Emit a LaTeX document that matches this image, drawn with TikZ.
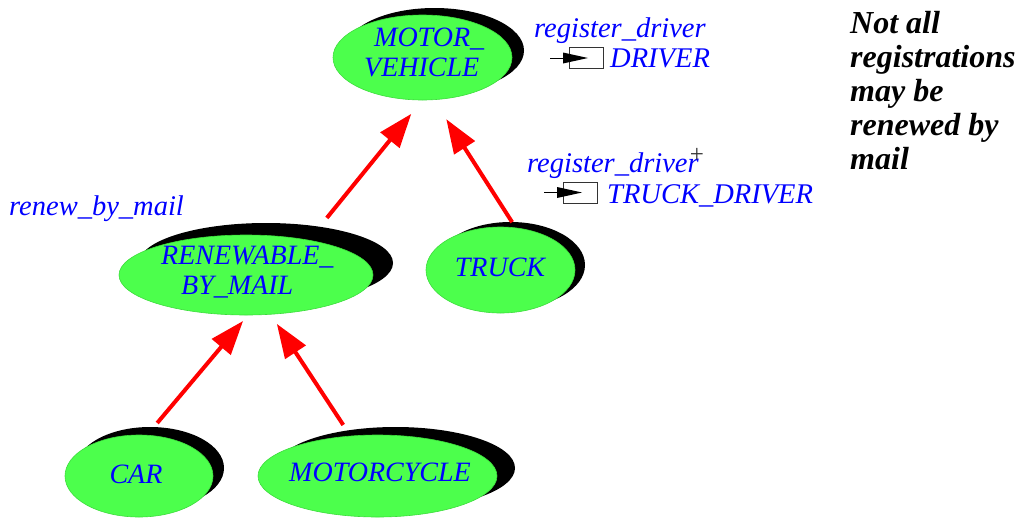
\documentclass[tikz,border=0pt]{standalone}
\usepackage{fontspec}
\setmainfont{Liberation Serif}
\usetikzlibrary{shapes.geometric,arrows.meta,shadows}
\definecolor{clsgreen}{RGB}{76,255,76}
\definecolor{clsedge}{RGB}{60,220,60}
\definecolor{featblue}{RGB}{0,0,255}
\definecolor{inhred}{RGB}{255,0,0}
\begin{document}
\begin{tikzpicture}[x=1pt,y=-1pt,
  cls/.style={ellipse, fill=clsgreen, draw=clsedge, line width=0.6pt, inner sep=0pt, outer sep=0pt},
  clsshadow/.style 2 args={drop shadow={shadow xshift=#1pt, shadow yshift=#2pt, opacity=1, fill=black}},
  clstext/.style={font=\fontsize{28}{30}\selectfont\itshape, text=featblue, inner sep=0pt, align=left},
  feat/.style={font=\fontsize{28.5}{30}\selectfont\itshape, text=featblue, inner sep=0pt},
  inherit/.style={draw=inhred, line width=4pt, -{Triangle[length=34pt,width=24pt]}},
  pics/redef/.style={code={
    \draw[line width=0.8pt, draw=black!80] (6.5,-10.5) rectangle (40,10.5);
    \fill[black] (0,-5.5) -- (25,0) -- (0,5.5) -- cycle;
    \draw[line width=1pt, black] (-13,0) -- (0,0);
  }},
]
\useasboundingbox (0,0) rectangle (1033,517);

% classes
\node[cls, minimum width=179pt, minimum height=85pt, clsshadow={12}{7}] (mv) at (422.5,57.5) {};
\node[cls, minimum width=254pt, minimum height=80pt, clsshadow={20}{12}] (ren) at (246,275) {};
\node[cls, minimum width=149pt, minimum height=86pt, clsshadow={10}{5}] (truck) at (500.5,270) {};
\node[cls, minimum width=148pt, minimum height=82pt, clsshadow={11}{8}] (car) at (139,476) {};
\node[cls, minimum width=239pt, minimum height=82pt, clsshadow={18}{8}] (mc) at (377.5,476) {};

% class names
\node[clstext, anchor=west] (mvt) at (364,52) {\hspace*{10pt}MOTOR\_\\VEHICLE};
\node[clstext, anchor=west] (rent) at (161,272.5) {RENEWABLE\_\\\hspace*{20pt}BY\_MAIL};
\node[clstext, anchor=base] (truckt) at (500,276) {TRUCK};
\node[clstext, anchor=base] (cart) at (136,483) {CAR};
\node[clstext, anchor=base] (mct) at (380,481) {MOTORCYCLE};

% inheritance links
\draw[inherit, shorten <=28.7pt, shorten >=17.8pt] (ren.29) -- (mv.south);
\draw[inherit, shorten <=6.8pt, shorten >=23.2pt] (truck.70) -- (mv.285);
\draw[inherit, shorten <=16pt, shorten >=7.8pt] (car.79) -- (ren.273);
\draw[inherit, shorten <=13.3pt, shorten >=11.5pt] (mc.124) -- (ren.302);

% features
\node[feat, anchor=base west] (rd1) at (534,37) {register\_driver};
\pic at (563,58) {redef};
\node[feat, anchor=base west] (drv) at (610,67) {DRIVER};
\node[feat, anchor=base west] (rd2) at (527,172) {register\_driver};
\node[font=\fontsize{25}{25}\selectfont, text=black!80, inner sep=0pt] (plus) at (697,155) {+};
\pic at (557,192.5) {redef};
\node[feat, anchor=base west] (tdrv) at (607,203) {TRUCK\_DRIVER};
\node[feat, anchor=base west] (rbm) at (9,215) {renew\_by\_mail};

% note
\node[anchor=north west, align=left, inner sep=0pt, font=\fontsize{32}{34}\selectfont\bfseries\itshape] (note) at (850,11) {Not all\\registrations\\may be\\renewed by\\mail};
\end{tikzpicture}
\end{document}
